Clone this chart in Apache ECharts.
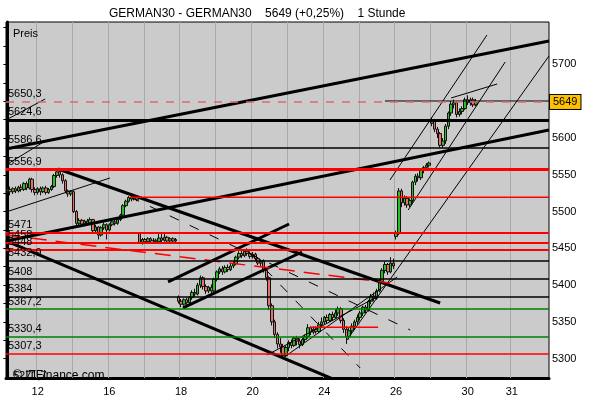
<!DOCTYPE html>
<html><head><meta charset="utf-8">
<script src="https://cdn.jsdelivr.net/npm/echarts@6/dist/echarts.min.js"></script>
<style>html,body{margin:0;padding:0;background:#fff}#c{width:600px;height:400px}</style>
</head><body><div id="c"></div>
<script>
// ---------- data ----------
const titleText = 'GERMAN30 - GERMAN30    5649 (+0,25%)    1 Stunde';
const panelLabel = 'Preis';
const watermark = '\u00A9 ITFinance.com';
const slotCount = 197;
const dayLabels = ['12', '16', '18', '20', '24', '26', '30', '31'];
const dayLabelSlots = [11, 37, 63, 89, 115, 141, 167, 183];
const dayBoundarySlots = [11, 24, 37, 50, 63, 76, 89, 102, 115, 128, 141, 154, 167, 183];
const yLabelValues = [5300, 5350, 5400, 5450, 5500, 5550, 5600, 5700];
const yTickValues = [5300, 5325, 5350, 5375, 5400, 5425, 5450, 5475, 5500, 5525, 5550, 5575, 5600, 5625, 5650, 5675, 5700, 5725, 5750];
const yMin = 5273.7, yMax = 5757.7;
const lastPrice = 5649;

// candles [open, close, low, high], one array per trading day
const dayA = [[5528,5530,5525,5533],[5530,5527,5522,5534],[5527,5531,5524,5533],[5531,5528,5525,5534],[5528,5533,5526,5535],[5533,5530,5527,5537],[5530,5538,5528,5540],[5538,5532,5529,5541],[5532,5544,5530,5546],[5544,5530,5526,5546],[5530,5526,5522,5533]];
const dayB = [[5526,5531,5523,5533],[5531,5527,5522,5534],[5527,5532,5525,5534],[5532,5526,5523,5535],[5526,5530,5524,5532],[5530,5534,5528,5536],[5534,5549,5532,5551],[5549,5554,5546,5558],[5554,5550,5546,5557],[5550,5542,5538,5552],[5542,5528,5525,5544],[5528,5524,5520,5530],[5524,5527,5521,5529]];
const dayC = [[5527,5500,5498,5529],[5500,5484,5480,5502],[5484,5488,5481,5491],[5488,5483,5480,5490],[5483,5487,5480,5489],[5487,5484,5481,5490],[5484,5489,5482,5492],[5489,5474,5470,5490],[5474,5479,5472,5482],[5479,5468,5462,5480],[5468,5478,5466,5480],[5478,5482,5475,5485],[5482,5475,5462,5484]];
const dayD = [[5475,5482,5473,5484],[5482,5486,5480,5488],[5486,5484,5481,5489],[5484,5489,5482,5491],[5489,5495,5487,5497],[5495,5508,5493,5510],[5508,5514,5506,5516],[5514,5519,5512,5521],[5519,5517,5514,5522],[5517,5520,5515,5522],[5519,5516,5514,5521],[5470,5458,5456,5471],[5458,5462,5455,5464]];
const dayE = [[5462,5459,5456,5464],[5459,5463,5457,5465],[5463,5460,5457,5465],[5460,5461,5457,5464],[5461,5459,5456,5463],[5459,5464,5457,5470],[5464,5461,5458,5471],[5461,5465,5459,5470],[5465,5460,5458,5467],[5460,5463,5458,5465],[5463,5460,5457,5465],[5460,5462,5457,5464],[5384,5378,5375,5386]];
const dayF = [[5378,5374,5370,5381],[5374,5380,5372,5382],[5380,5376,5373,5383],[5376,5383,5374,5385],[5383,5390,5380,5393],[5390,5388,5384,5395],[5388,5400,5386,5403],[5400,5410,5396,5413],[5410,5398,5394,5412],[5398,5392,5388,5401],[5392,5397,5389,5399],[5397,5392,5388,5401],[5392,5408,5390,5410]];
const dayG = [[5408,5418,5405,5420],[5418,5422,5415,5425],[5422,5418,5414,5426],[5418,5424,5416,5427],[5424,5421,5418,5428],[5421,5426,5419,5429],[5426,5429,5423,5432],[5429,5438,5427,5440],[5438,5443,5435,5446],[5443,5440,5437,5447],[5440,5446,5438,5449],[5446,5443,5440,5450],[5443,5439,5436,5446]];
const dayH = [[5439,5442,5436,5445],[5442,5436,5433,5444],[5436,5430,5427,5438],[5430,5433,5426,5435],[5433,5420,5417,5435],[5420,5410,5406,5423],[5410,5372,5366,5412],[5372,5350,5345,5375],[5350,5333,5328,5353],[5333,5320,5314,5336],[5320,5316,5308,5328],[5316,5304,5300,5320],[5304,5315,5302,5318]];
const dayI = [[5315,5322,5310,5325],[5322,5318,5314,5326],[5318,5328,5316,5330],[5328,5324,5318,5331],[5324,5319,5314,5327],[5319,5326,5317,5329],[5326,5330,5322,5333],[5330,5342,5327,5347],[5342,5336,5332,5344],[5336,5340,5333,5344],[5340,5337,5334,5344],[5337,5346,5335,5350],[5346,5350,5343,5356]];
const dayJ = [[5350,5356,5347,5358],[5356,5352,5348,5360],[5352,5360,5350,5362],[5360,5356,5352,5364],[5356,5362,5354,5367],[5362,5368,5358,5371],[5368,5352,5348,5370],[5352,5340,5335,5355],[5340,5330,5320,5344],[5330,5338,5326,5342],[5338,5344,5334,5348],[5344,5350,5340,5353],[5350,5356,5346,5360]];
const dayK = [[5356,5362,5352,5365],[5362,5370,5358,5372],[5370,5366,5362,5373],[5366,5378,5364,5380],[5378,5385,5374,5388],[5385,5382,5378,5390],[5382,5392,5380,5395],[5392,5405,5390,5408],[5405,5420,5402,5423],[5420,5428,5416,5432],[5428,5418,5414,5430],[5418,5430,5416,5438],[5430,5426,5422,5436]];
const dayL = [[5466,5470,5462,5474],[5470,5528,5468,5532],[5528,5512,5506,5531],[5512,5518,5508,5522],[5518,5509,5505,5521],[5509,5515,5506,5518],[5515,5540,5512,5542],[5540,5548,5536,5551],[5548,5546,5541,5552],[5546,5556,5543,5559],[5556,5560,5552,5562],[5560,5563,5557,5566],[5563,5566,5560,5568]];
const dayM = [[5620,5624,5616,5628],[5624,5612,5608,5626],[5612,5606,5600,5615],[5606,5590,5587,5608],[5590,5596,5586,5600],[5596,5616,5592,5619],[5616,5634,5612,5636],[5634,5646,5630,5650],[5646,5648,5640,5652],[5648,5632,5628,5650],[5632,5636,5629,5640],[5636,5640,5632,5643],[5640,5652,5638,5655]];
const dayN = [[5652,5648,5645,5658],[5648,5652,5644,5655],[5652,5645,5642,5655],[5645,5649,5643,5653]];

// horizontal levels (full width) and their left labels
const levelValues = [5650.3, 5624.6, 5586.6, 5556.9, 5471, 5458, 5448, 5432.9, 5408, 5384, 5367.2, 5330.4, 5307.3];
const levelLabels = ['5650,3', '5624,6', '5586,6', '5556,9', '5471', '5458', '5448', '5432,9', '5408', '5384', '5367,2', '5330,4', '5307,3'];
const bottomLevelLabel = '5271,7';
// partial horizontal levels [slotFrom, slotTo, value]
const partialBlack = [[137, 196.5, 5650.3]];
const partialRed = [[44.5, 196.5, 5519.4], [109.8, 134.5, 5342.7]];

// trend lines [[slot, price], [slot, price]]
const thickLines = [
  [[-0.5, 5585.0], [196.5, 5731.9]],
  [[-0.5, 5460.0], [196.5, 5610.9]],
  [[18.4, 5557.9], [157.0, 5375.7]],
  [[-0.5, 5460.0], [118.9, 5271.0]],
  [[58.3, 5404.3], [102.2, 5483.1]],
  [[63.7, 5368.9], [106.9, 5445.0]]
];
const thinLines = [
  [[-0.5, 5499.4], [37.2, 5545.6]],
  [[-0.5, 5624.5], [13.7, 5653.0]],
  [[-0.5, 5563.3], [13.7, 5595.9]],
  [[138.8, 5542.9], [174.0, 5740.0]],
  [[145.4, 5502.1], [180.6, 5703.3]],
  [[123.2, 5325.4], [196.5, 5711.5]],
  [[161.0, 5654.4], [177.7, 5673.4]],
  [[94.2, 5305.0], [134.1, 5383.9]],
  [[100.0, 5300.9], [141.4, 5411.0]]
];
const dashedLines = [
  [[44.5, 5519.8], [146.1, 5339.0]],
  [[88.0, 5443.4], [128.0, 5287.3]]
];
const redDashedLines = [
  [[-0.5, 5468.1], [138.8, 5402.9]]
];

// ---------- chart ----------
const FONT = 'Liberation Sans';
const candles = [].concat(dayA, dayB, dayC, dayD, dayE, dayF, dayG, dayH, dayI, dayJ, dayK, dayL, dayM, dayN);
const categories = Array.from({length: slotCount}, (_, i) => {
  const k = dayLabelSlots.indexOf(i);
  return k >= 0 ? dayLabels[k] : '';
});

const levelStyle = {
  '5650.3': {color: 'rgba(0,0,0,0)', width: 1},
  '5624.6': {color: '#000', width: 3},
  '5586.6': {color: '#000', width: 1.5},
  '5556.9': {color: '#ff0000', width: 3},
  '5471': {color: '#ff0000', width: 2},
  '5458': {color: '#ff0000', width: 2},
  '5448': {color: '#ff0000', width: 2},
  '5432.9': {color: '#000', width: 1.5},
  '5408': {color: '#000', width: 1.5},
  '5384': {color: '#000', width: 1.5},
  '5367.2': {color: '#008000', width: 1.5},
  '5330.4': {color: '#008000', width: 1.5},
  '5307.3': {color: '#ff0000', width: 1.5}
};

const levelData = levelValues.map((v, i) => ({
  yAxis: v,
  lineStyle: Object.assign({type: 'solid'}, levelStyle[String(v)]),
  label: {
    show: true, position: 'insideStartTop', formatter: levelLabels[i],
    color: '#000', fontFamily: FONT, fontSize: 11, distance: [2, 2]
  }
}));
levelData.push({
  yAxis: lastPrice,
  lineStyle: {color: '#e06a6a', width: 1.5, type: [8, 8]},
  label: {
    show: true, position: 'end', formatter: String(lastPrice), distance: 1,
    color: '#000', fontFamily: FONT, fontSize: 11,
    backgroundColor: '#ffc000', borderColor: '#000', borderWidth: 1, padding: [2, 3, 1, 3]
  }
});

const lineSeries = [];
function addLines(list, style) {
  list.forEach(seg => lineSeries.push({
    type: 'line', xAxisIndex: 1, yAxisIndex: 0, data: seg, symbol: 'none',
    clip: true, silent: true, z: 3, lineStyle: style, animation: false
  }));
}
addLines(thickLines, {color: '#000', width: 3});
addLines(thinLines, {color: '#000', width: 1});
addLines(dashedLines, {color: '#000', width: 1, type: [10, 12]});
addLines(redDashedLines, {color: '#ff0000', width: 1.5, type: [16, 9]});
addLines(partialBlack.map(p => [[p[0], p[2]], [p[1], p[2]]]), {color: '#000', width: 1});
addLines(partialRed.map(p => [[p[0], p[2]], [p[1], p[2]]]), {color: '#ff0000', width: 1.5});

const option = {
  animation: false,
  backgroundColor: '#ffffff',
  title: [
    {text: titleText, left: 104, top: 3, textStyle: {fontFamily: FONT, fontSize: 12, fontWeight: 'normal', color: '#000'}},
    {text: panelLabel, left: 8, top: 23, textStyle: {fontFamily: FONT, fontSize: 11, fontWeight: 'normal', color: '#000'}},
    {text: bottomLevelLabel, left: 8, top: 365, textStyle: {fontFamily: FONT, fontSize: 11, fontWeight: 'normal', color: '#000'}},
    {text: watermark, left: 8, top: 365, textStyle: {fontFamily: FONT, fontSize: 12, fontWeight: 'normal', color: '#000'}}
  ],
  grid: {left: 6, right: 51, top: 22, bottom: 22, show: true, backgroundColor: '#cbcbcb', borderColor: '#000', borderWidth: 1},
  xAxis: [
    {type: 'category', data: categories, boundaryGap: true,
     axisLine: {lineStyle: {color: '#000', width: 3}}, axisTick: {show: false},
     axisLabel: {interval: 0, color: '#000', fontFamily: FONT, fontSize: 11, margin: 8},
     splitLine: {show: false}},
    {type: 'value', min: -0.5, max: slotCount - 0.5, show: false}
  ],
  yAxis: [{
    type: 'value', position: 'right', min: yMin, max: yMax, scale: true,
    axisLine: {show: true, lineStyle: {color: '#000', width: 3}},
    axisTick: {show: true, inside: true, length: 4, customValues: yTickValues, lineStyle: {color: '#000'}},
    axisLabel: {customValues: yLabelValues, formatter: v => String(Math.round(v)), color: '#000', fontFamily: FONT, fontSize: 11, margin: 3},
    splitLine: {show: false}
  }],
  series: [
    {type: 'line', xAxisIndex: 1, data: [], silent: true,
     markLine: {silent: true, z: 1, symbol: ['none', 'none'], label: {show: false},
       lineStyle: {color: '#a9a9a9', width: 1, type: 'solid'},
       data: dayBoundarySlots.map(b => ({xAxis: b - 0.5}))}},
    {type: 'candlestick', xAxisIndex: 0, yAxisIndex: 0, data: candles, z: 2, barWidth: 3, silent: true,
     itemStyle: {color: '#22c322', color0: '#e8706a', borderColor: '#111', borderColor0: '#111', borderWidth: 1}},
    {type: 'line', xAxisIndex: 1, data: [], silent: true,
     markLine: {silent: true, z: 4, symbol: ['none', 'none'], data: levelData}}
  ].concat(lineSeries)
};
const chart = echarts.init(document.getElementById('c'));
chart.setOption(option);
</script></body></html>
